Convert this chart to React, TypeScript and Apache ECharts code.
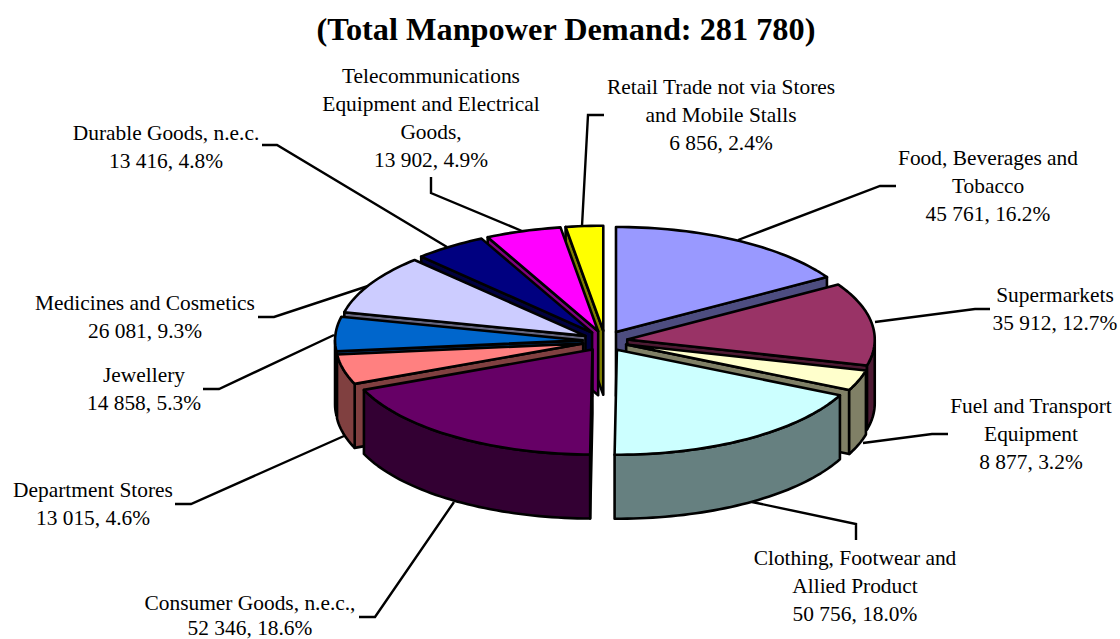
import React, { useEffect, useRef } from "react";
import * as echarts from "echarts";

const titleText = "(Total Manpower Demand: 281 780)";
const categories = [
  "Food, Beverages and\nTobacco",
  "Supermarkets",
  "Fuel and Transport\nEquipment",
  "Clothing, Footwear and\nAllied Product",
  "Consumer Goods, n.e.c.,",
  "Department Stores",
  "Jewellery",
  "Medicines and Cosmetics",
  "Durable Goods, n.e.c.",
  "Telecommunications\nEquipment and Electrical\nGoods,",
  "Retail Trade not via Stores\nand Mobile Stalls",
];
const demand = [45761, 35912, 8877, 50756, 52346, 13015, 14858, 26081, 13416, 13902, 6856];
const percents = ["16.2", "12.7", "3.2", "18.0", "18.6", "4.6", "5.3", "9.3", "4.8", "4.9", "2.4"];
const colors = ["#9999FF", "#993366", "#FFFFCC", "#CCFFFF", "#660066", "#FF8080", "#0066CC", "#CCCCFF", "#000080", "#FF00FF", "#FFFF00"];
const sideColors = ["#4D4D80", "#4D1A33", "#808066", "#668080", "#330033", "#804040", "#003366", "#666680", "#000040", "#800080", "#808000"];

// Layout of the text blocks and leader lines (not data)
const labelCentres = [
  [988, 186], [1055, 309], [1031, 434], [855, 586], [250, 615.5], [93, 504],
  [144, 389], [145, 317], [166, 147], [431, 118], [721, 115],
];
const labelSteps = [28, 28, 28, 28, 25, 28, 28, 28, 28, 28, 28];
const leaders = [
  [[738, 240], [880, 186], [896, 186]],
  [[875, 322], [975, 309], [990, 309]],
  [[863, 443], [932, 434], [948, 434]],
  [[752, 502], [856, 524], [856, 540]],
  [[454, 502], [375, 617], [359, 617]],
  [[344, 436], [191, 504], [175, 504]],
  [[334, 335], [219, 389], [203, 389]],
  [[368, 286], [274, 317], [258, 317]],
  [[447, 247], [277, 145], [262, 145]],
  [[522, 231], [431, 193], [431, 177]],
  [[582, 226], [588, 115], [604, 115]],
];

// Pie geometry
const CX = 605, CY = 341, RX = 247.5, RY = 105, DEPTH = 64, EX = 22.5, EY = 10.3;

const fmt = (n: number) => String(n).replace(/\B(?=(\d{3})+$)/g, " ");
const total = demand.reduce((a, b) => a + b, 0);
const rad = (d: number) => (d * Math.PI) / 180;

// [startAngle, endAngle, categoryIndex], painted from the back to the front
const sliceData = (() => {
  let acc = 0;
  const rows = demand.map((v, i) => {
    const a = (acc / total) * 360;
    acc += v;
    return [a, (acc / total) * 360, i];
  });
  return rows.sort(
    (p, q) => Math.cos(rad((q[0] + q[1]) / 2)) - Math.cos(rad((p[0] + p[1]) / 2)) > 0 ? 1 : -1
  );
})();

function renderSlice(_: any, api: any) {
  const a = api.value(0) as number;
  const b = api.value(1) as number;
  const idx = api.value(2) as number;
  const mid = rad((a + b) / 2);
  const ox = CX + EX * Math.sin(mid);
  const oy = CY - EY * Math.cos(mid);
  const at = (deg: number, dz = 0) => [ox + RX * Math.sin(rad(deg)), oy - RY * Math.cos(rad(deg)) + dz];
  const arc = (from: number, to: number, dz = 0) => {
    const n = Math.max(2, Math.ceil(Math.abs(to - from) / 1.5));
    const pts: number[][] = [];
    for (let i = 0; i <= n; i++) pts.push(at(from + ((to - from) * i) / n, dz));
    return pts;
  };
  const stroke = { stroke: "#000", lineWidth: 2.6, lineJoin: "round" };
  const side = { ...stroke, fill: sideColors[idx] };
  const children: any[] = [];
  const face = (deg: number) => ({
    type: "polygon",
    shape: { points: [[ox, oy], at(deg), at(deg, DEPTH), [ox, oy + DEPTH]] },
    style: side,
  });
  if (a > 180) children.push(face(a));
  if (b < 180) children.push(face(b));
  const w0 = Math.max(a, 90);
  const w1 = Math.min(b, 270);
  if (w1 > w0) {
    children.push({
      type: "polygon",
      shape: { points: [...arc(w0, w1), ...arc(w1, w0, DEPTH)] },
      style: side,
    });
  }
  children.push({
    type: "polygon",
    shape: { points: [[ox, oy], ...arc(a, b)] },
    style: { ...stroke, fill: colors[idx] },
  });
  return { type: "group", children };
}

export default function App() {
  const ref = useRef<HTMLDivElement>(null);
  useEffect(() => {
    document.body.style.margin = "0";
    const chart = echarts.init(ref.current!, undefined, { renderer: "svg" });
    const font = "'Liberation Serif', 'Times New Roman', serif";
    const labelTexts = categories.flatMap((c, i) => {
      const lines = `${c}\n${fmt(demand[i])}, ${percents[i]}%`.split("\n");
      return lines.map((line, k) => ({
        type: "text",
        silent: true,
        x: labelCentres[i][0],
        y: labelCentres[i][1] + (k - (lines.length - 1) / 2) * labelSteps[i],
        style: {
          text: line,
          fontFamily: font,
          fontSize: 21.4,
          lineHeight: 18,
          fill: "#000",
          align: "center",
          verticalAlign: "middle",
          textAlign: "center",
          textVerticalAlign: "middle",
        },
      }));
    });
    chart.setOption({
      animation: false,
      backgroundColor: "#fff",
      title: {
        text: titleText,
        left: 561,
        top: 6,
        textAlign: "center",
        textStyle: { fontFamily: font, fontWeight: "bold", fontSize: 32.3, color: "#000", lineHeight: 36 },
      },
      graphic: [
        ...leaders.map((pts) => ({
          type: "polyline",
          silent: true,
          z: 0,
          shape: { points: pts },
          style: { stroke: "#000", lineWidth: 2.4, fill: "none" },
        })),
        ...labelTexts,
      ],
      series: [
        {
          type: "custom",
          coordinateSystem: "none",
          silent: true,
          z: 2,
          data: sliceData,
          renderItem: renderSlice,
        },
      ],
    });
    return () => chart.dispose();
  }, []);
  return <div ref={ref} style={{ position: "absolute", left: 0, top: 0, width: 1120, height: 639 }} />;
}
